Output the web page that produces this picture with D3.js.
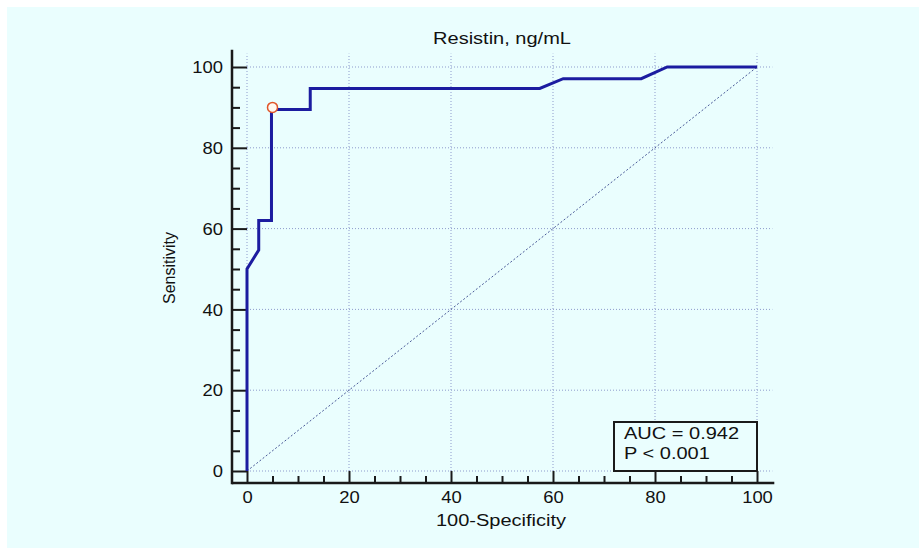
<!DOCTYPE html>
<html>
<head>
<meta charset="utf-8">
<script src="https://cdn.jsdelivr.net/npm/d3@7"></script>
<style>
  body { margin: 0; background: #fff; }
  text { font-family: "Liberation Sans", Arial, sans-serif; fill: #111; }
</style>
</head>
<body>
<svg width="919" height="548"></svg>
<script>
const svg = d3.select('svg');
const width = +svg.attr('width');
const height = +svg.attr('height');

// ROC curve points (100-Specificity, Sensitivity)
const fpr  = [0, 0, 2.3, 2.3, 4.8, 4.8, 12.4, 12.4, 57.4, 62.0, 77.3, 82.4, 100];
const sens = [0, 50, 54.7, 62, 62, 89.5, 89.5, 94.7, 94.7, 97.1, 97.1, 100, 100];
const cutoff = [5, 90];                      // marked criterion point
const majorTicks = [0, 20, 40, 60, 80, 100];
const minorTicks = d3.range(0, 101, 5).filter(v => v % 20 !== 0);
const statLines = ['AUC = 0.942', 'P < 0.001'];

// the reference text looks a little wide, so stretch it horizontally
const stretch = (sel, k) => sel.each(function () {
  const len = this.getComputedTextLength();
  d3.select(this).attr('textLength', len * k).attr('lengthAdjust', 'spacingAndGlyphs');
});

// background panel
svg.append('rect')
  .attr('x', 7).attr('y', 7)
  .attr('width', width - 7).attr('height', height - 7)
  .attr('fill', '#eafefe');

const x = d3.scaleLinear().domain([0, 100]).range([247, 757]);
const y = d3.scaleLinear().domain([0, 100]).range([471, 67]);

const axisX = x(0) - 15;   // y axis line position
const axisY = y(0) + 12;   // x axis line position
const gridEndX = x(103);
const gridEndY = y(103.3);

const grid = svg.append('g')
  .attr('stroke', '#8e9bcc')
  .attr('stroke-width', 1)
  .attr('stroke-dasharray', '1,2');

grid.selectAll('.vg').data(majorTicks).enter().append('line')
  .attr('x1', d => x(d)).attr('x2', d => x(d))
  .attr('y1', y(0)).attr('y2', gridEndY);

grid.selectAll('.hg').data(majorTicks).enter().append('line')
  .attr('y1', d => y(d)).attr('y2', d => y(d))
  .attr('x1', x(0)).attr('x2', gridEndX);

// reference diagonal
svg.append('line')
  .attr('x1', x(0)).attr('y1', y(0))
  .attr('x2', x(100)).attr('y2', y(100))
  .attr('stroke', '#4a5a98')
  .attr('stroke-width', 1)
  .attr('stroke-dasharray', '2,2');

// axes
const xAxisG = svg.append('g').attr('transform', `translate(0,${axisY})`);
xAxisG.call(d3.axisBottom(x).tickValues(majorTicks).tickSize(-12).tickPadding(9));
xAxisG.append('g').call(d3.axisBottom(x).tickValues(minorTicks).tickSize(-7).tickFormat(''));
xAxisG.selectAll('.domain').remove();
xAxisG.append('line')
  .attr('x1', axisX).attr('x2', gridEndX + 2)
  .attr('stroke', '#1a1a1a').attr('stroke-width', 2.5);

const yAxisG = svg.append('g').attr('transform', `translate(${axisX},0)`);
yAxisG.call(d3.axisLeft(y).tickValues(majorTicks).tickSize(-15).tickPadding(9));
yAxisG.append('g').call(d3.axisLeft(y).tickValues(minorTicks).tickSize(-8).tickFormat(''));
yAxisG.selectAll('.domain').remove();
yAxisG.append('line')
  .attr('y1', axisY + 1.2).attr('y2', gridEndY - 4)
  .attr('stroke', '#1a1a1a').attr('stroke-width', 2.5);

svg.selectAll('.tick line').attr('stroke', '#1a1a1a').attr('stroke-width', 2);
svg.selectAll('.tick text')
  .attr('font-family', '"Liberation Sans", Arial, sans-serif')
  .attr('font-size', 16)
  .attr('fill', '#111')
  .call(stretch, 1.15);
yAxisG.selectAll('.tick text').attr('dy', '0.36em');

// ROC curve
const pts = fpr.map((d, i) => [d, sens[i]]);
svg.append('path')
  .datum(pts)
  .attr('fill', 'none')
  .attr('stroke', '#1c1ca0')
  .attr('stroke-width', 3)
  .attr('stroke-linejoin', 'miter')
  .attr('d', d3.line().x(d => x(d[0])).y(d => y(d[1])));

svg.append('circle')
  .attr('cx', x(cutoff[0])).attr('cy', y(cutoff[1]))
  .attr('r', 5)
  .attr('fill', '#fff8f0')
  .attr('stroke', '#e0552a')
  .attr('stroke-width', 1.5);

// stats box
const boxW = 143, boxH = 49;
svg.append('rect')
  .attr('x', x(100) - boxW).attr('y', y(0) - boxH)
  .attr('width', boxW).attr('height', boxH)
  .attr('fill', '#eafefe')
  .attr('stroke', '#1a1a1a').attr('stroke-width', 2);

svg.selectAll('.stat').data(statLines).enter().append('text')
  .attr('x', x(100) - boxW + 10)
  .attr('y', (d, i) => y(0) - boxH + 17 + i * 20)
  .attr('font-size', 16)
  .text(d => d)
  .call(stretch, 1.25);

// titles
svg.append('text')
  .attr('x', x(50)).attr('y', 44)
  .attr('text-anchor', 'middle')
  .attr('font-size', 16)
  .text('Resistin, ng/mL')
  .call(stretch, 1.25);

svg.append('text')
  .attr('x', x(50) - 1).attr('y', 526)
  .attr('text-anchor', 'middle')
  .attr('font-size', 16)
  .text('100-Specificity')
  .call(stretch, 1.25);

svg.append('text')
  .attr('transform', `translate(175,268) rotate(-90)`)
  .attr('text-anchor', 'middle')
  .attr('font-size', 16)
  .text('Sensitivity');
</script>
</body>
</html>
